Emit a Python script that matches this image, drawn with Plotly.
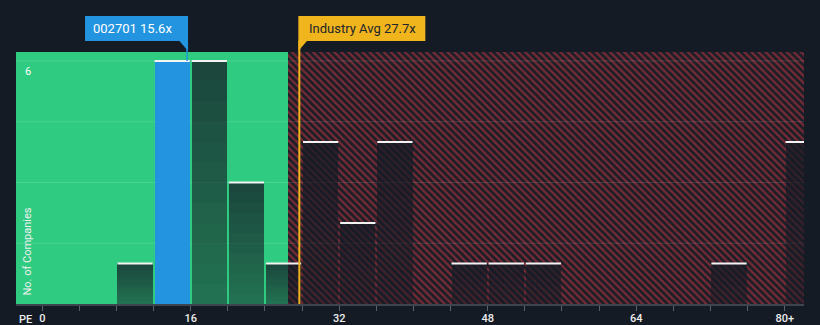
import plotly.graph_objects as go

# ---------------- data ----------------
BIN_START = [8, 12, 16, 20, 24, 28, 32, 36, 44, 48, 52, 72, 80]
COUNTS = [1, 6, 6, 3, 1, 4, 2, 4, 1, 1, 1, 1, 4]
BIN_WIDTH = 4
COMPANY_BIN = 12
COMPANY_NAME = "002701"
COMPANY_PE = 15.6
INDUSTRY_AVG = 27.7
GREEN_END = 26.5
GRID_VALUES = [1.5, 3, 4.5, 6]
XTICK_VALS = [0, 16, 32, 48, 64, 80]
XTICK_TEXT = ["0", "16", "32", "48", "64", "80+"]
Y_LABEL_VAL = 6

# ---------------- style ----------------
BG = "#151b25"
GREEN = "#2fcb81"
BLUE = "#2394df"
ORANGE = "#f0b41c"
HATCH_FG = "#7a2b35"
HATCH_BG = "#1c1e28"
FONT = "Roboto"
XMIN, XMAX = -2.83, 82.08
YMAX = 6.22
BAR_W = 3.8
SLICES = 12
A_TOP, A_BOT = 0.76, 0.50

fig = go.Figure()

# background zones (main subplot)
fig.add_trace(go.Bar(
    x=[(XMIN + GREEN_END) / 2], y=[YMAX], width=[GREEN_END - XMIN],
    marker=dict(color=GREEN, line=dict(width=0)), hoverinfo="skip",
    xaxis="x", yaxis="y"))
fig.add_trace(go.Bar(
    x=[(GREEN_END + XMAX) / 2], y=[YMAX], width=[XMAX - GREEN_END],
    marker=dict(color=HATCH_BG, line=dict(width=0),
                pattern=dict(shape="\\", fgcolor=HATCH_FG, bgcolor=HATCH_BG,
                             size=5, solidity=0.42, fillmode="replace")),
    hoverinfo="skip", xaxis="x", yaxis="y"))

# gridlines (main subplot, below data bars)
gx, gy = [], []
for g in GRID_VALUES:
    gx += [XMIN, XMAX, None]
    gy += [g, g, None]
fig.add_trace(go.Scatter(x=gx, y=gy, mode="lines",
                         line=dict(color="rgba(255,255,255,0.13)", width=1),
                         hoverinfo="skip", xaxis="x", yaxis="y"))

# data bars with vertical gradient (overlay subplot)
sx, sy, sb, sc = [], [], [], []
for s, c in zip(BIN_START, COUNTS):
    if s == COMPANY_BIN:
        continue
    for k in range(SLICES):
        a = A_BOT + (A_TOP - A_BOT) * (k + 0.5) / SLICES
        sx.append(s + BIN_WIDTH / 2)
        sb.append(c * k / SLICES)
        sy.append(c / SLICES)
        sc.append(f"rgba(21,27,37,{a:.3f})")
fig.add_trace(go.Bar(x=sx, y=sy, base=sb, width=BAR_W,
                     marker=dict(color=sc, line=dict(width=0)),
                     hoverinfo="skip", xaxis="x2", yaxis="y2"))

comp_h = COUNTS[BIN_START.index(COMPANY_BIN)]
fig.add_trace(go.Bar(x=[COMPANY_BIN + BIN_WIDTH / 2], y=[comp_h], width=BAR_W,
                     marker=dict(color=BLUE, line=dict(width=0)),
                     hoverinfo="skip", xaxis="x2", yaxis="y2"))

# white top lines
tx, ty = [], []
for s, c in zip(BIN_START, COUNTS):
    tx += [s + (BIN_WIDTH - BAR_W) / 2, s + (BIN_WIDTH + BAR_W) / 2, None]
    ty += [c, c, None]
fig.add_trace(go.Scatter(x=tx, y=ty, mode="lines",
                         line=dict(color="#f4f4f4", width=2),
                         hoverinfo="skip", xaxis="x2", yaxis="y2"))

# ---------------- markers / callouts ----------------
shapes = []
shapes.append(dict(type="line", xref="x", yref="paper", x0=INDUSTRY_AVG, x1=INDUSTRY_AVG,
                   y0=0, y1=1 + 11 / 252, line=dict(color=ORANGE, width=2), layer="above"))
shapes.append(dict(type="line", xref="x", yref="paper", x0=COMPANY_PE, x1=COMPANY_PE,
                   y0=comp_h / YMAX, y1=1 + 11 / 252, line=dict(color=BLUE, width=1.5), layer="above"))
shapes.append(dict(type="rect", xref="x", xsizemode="pixel", xanchor=COMPANY_PE,
                   x0=-102, x1=1, yref="paper", ysizemode="pixel", yanchor=1,
                   y0=11, y1=36, fillcolor=BLUE, line=dict(width=0), layer="above"))
shapes.append(dict(type="path", xref="x", xsizemode="pixel", xanchor=COMPANY_PE,
                   yref="paper", ysizemode="pixel", yanchor=1,
                   path="M -8,11.5 L 1,11.5 L 1,1 Z", fillcolor=BLUE, line=dict(width=0), layer="above"))
shapes.append(dict(type="rect", xref="x", xsizemode="pixel", xanchor=INDUSTRY_AVG,
                   x0=-1, x1=126, yref="paper", ysizemode="pixel", yanchor=1,
                   y0=11, y1=36, fillcolor=ORANGE, line=dict(width=0), layer="above"))
shapes.append(dict(type="path", xref="x", xsizemode="pixel", xanchor=INDUSTRY_AVG,
                   yref="paper", ysizemode="pixel", yanchor=1,
                   path="M -1,11.5 L 8,11.5 L -1,1 Z", fillcolor=ORANGE, line=dict(width=0), layer="above"))

annotations = [
    dict(text=f"{COMPANY_NAME} {COMPANY_PE}x", xref="x", x=COMPANY_PE, xanchor="left", xshift=-96,
         yref="paper", y=1, yshift=23.5, yanchor="middle", showarrow=False,
         font=dict(family=FONT, size=13, color="#ffffff")),
    dict(text=f"Industry Avg {INDUSTRY_AVG}x", xref="x", x=INDUSTRY_AVG, xanchor="left", xshift=8,
         yref="paper", y=1, yshift=23.5, yanchor="middle", showarrow=False,
         font=dict(family=FONT, size=13, color="#20242c")),
    dict(text=str(Y_LABEL_VAL), xref="paper", x=12 / 788, xanchor="center",
         yref="y", y=Y_LABEL_VAL, yanchor="top", yshift=-2, showarrow=False,
         font=dict(family=FONT, size=11, color="#ffffff")),
    dict(text="No. of Companies", xref="paper", x=12 / 788, xanchor="center",
         yref="paper", y=0.208, yanchor="middle", textangle=-90, showarrow=False,
         font=dict(family=FONT, size=11, color="#f0f0f0")),
    dict(text="PE", xref="paper", x=1 / 788, xanchor="left",
         yref="paper", y=-15 / 252, yanchor="middle", showarrow=False,
         font=dict(family=FONT, size=11, color="#eeeeee", weight=500)),
]

fig.update_layout(
    width=820, height=325, autosize=False,
    margin=dict(l=16, r=16, t=52, b=21, pad=0),
    paper_bgcolor=BG, plot_bgcolor=BG,
    barmode="overlay", bargap=0, showlegend=False,
    shapes=shapes, annotations=annotations,
    xaxis=dict(range=[XMIN, XMAX], showgrid=False, zeroline=False, automargin=False,
               tickmode="array", tickvals=XTICK_VALS, ticktext=XTICK_TEXT,
               ticks="outside", ticklen=5, tickwidth=1, tickcolor="#5b606b",
               ticklabelstandoff=-2,
               minor=dict(dtick=BIN_WIDTH, tick0=0, ticks="outside", ticklen=5,
                          tickwidth=1, tickcolor="#5b606b", showgrid=False),
               showline=True, linecolor="#3f444e", linewidth=2,
               tickfont=dict(family=FONT, size=11, color="#eeeeee", weight=500),
               fixedrange=True),
    yaxis=dict(range=[0, YMAX], visible=False, showgrid=False, zeroline=False,
               automargin=False, fixedrange=True),
    xaxis2=dict(range=[XMIN, XMAX], overlaying="x", visible=False, showgrid=False,
                zeroline=False, automargin=False, fixedrange=True),
    yaxis2=dict(range=[0, YMAX], overlaying="y", visible=False, showgrid=False,
                zeroline=False, automargin=False, fixedrange=True),
)

fig.write_html("out.html")
